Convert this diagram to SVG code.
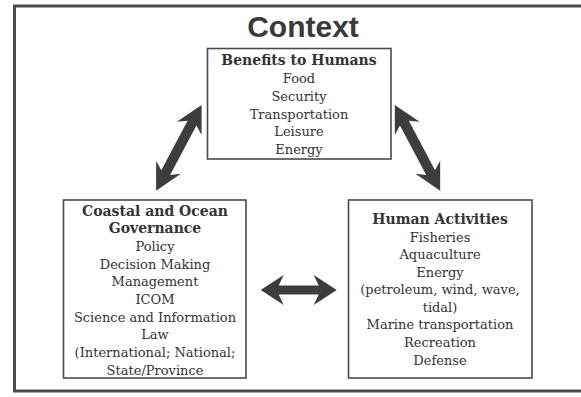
<svg xmlns="http://www.w3.org/2000/svg" width="581" height="397" viewBox="0 0 581 397">
<style>
.box{fill:#fff;stroke:#4a4a4a;stroke-width:1.6}
.t{font-family:"DejaVu Serif","Liberation Serif",serif;font-size:13px;fill:#333;text-anchor:middle}
.b{font-weight:bold;font-size:14px}
.arr{fill:#3d3d3d}
</style>
<rect x="0" y="0" width="581" height="397" fill="#fff"/>
<rect id="frame" x="14.5" y="6" width="580" height="385" fill="none" stroke="#4a4a4a" stroke-width="3"/>
<text x="303" y="37" font-family="Liberation Sans, Arial, sans-serif" font-weight="bold" font-size="30" fill="#3a3a3a" text-anchor="middle">Context</text>
<g id="connectors">
<path class="arr" transform="translate(178.85,147.85) rotate(118)" d="M-48.5,0 L-22,-14 L-28,-5 L28,-5 L22,-14 L48.5,0 L22,14 L28,5 L-28,5 L-22,14 Z"/>
<path class="arr" transform="translate(417.5,147.85) rotate(62.1)" d="M-48.5,0 L-22,-14 L-28,-5 L28,-5 L22,-14 L48.5,0 L22,14 L28,5 L-28,5 L-22,14 Z"/>
<path class="arr" transform="translate(298.7,290)" d="M-38,0 L-15,-15 L-20,-4.5 L20,-4.5 L15,-15 L38,0 L15,15 L20,4.5 L-20,4.5 L-15,15 Z"/>
</g>
<g id="benefits">
<rect class="box" x="207.5" y="48.5" width="183.5" height="110.5"/>
<text class="t b" x="299" y="65">Benefits to Humans</text>
<text class="t" x="299" y="83">Food</text>
<text class="t" x="299" y="101">Security</text>
<text class="t" x="299" y="118.5">Transportation</text>
<text class="t" x="299" y="136">Leisure</text>
<text class="t" x="299" y="153.5">Energy</text>
</g>
<g id="governance">
<rect class="box" x="63.5" y="200" width="182.5" height="178"/>
<text class="t b" x="155" y="215.5">Coastal and Ocean</text>
<text class="t b" x="155" y="233">Governance</text>
<text class="t" x="155" y="251">Policy</text>
<text class="t" x="155" y="268.5">Decision Making</text>
<text class="t" x="155" y="286">Management</text>
<text class="t" x="155" y="304">ICOM</text>
<text class="t" x="155" y="321.5">Science and Information</text>
<text class="t" x="155" y="339">Law</text>
<text class="t" x="155" y="357">(International; National;</text>
<text class="t" x="155" y="374.5">State/Province</text>
</g>
<g id="activities">
<rect class="box" x="348.5" y="200" width="183.5" height="178"/>
<text class="t b" x="440" y="223.5">Human Activities</text>
<text class="t" x="440" y="241.5">Fisheries</text>
<text class="t" x="440" y="259">Aquaculture</text>
<text class="t" x="440" y="276.5">Energy</text>
<text class="t" x="440" y="294">(petroleum, wind, wave,</text>
<text class="t" x="440" y="311.5">tidal)</text>
<text class="t" x="440" y="329">Marine transportation</text>
<text class="t" x="440" y="347">Recreation</text>
<text class="t" x="440" y="364.5">Defense</text>
</g>
</svg>
